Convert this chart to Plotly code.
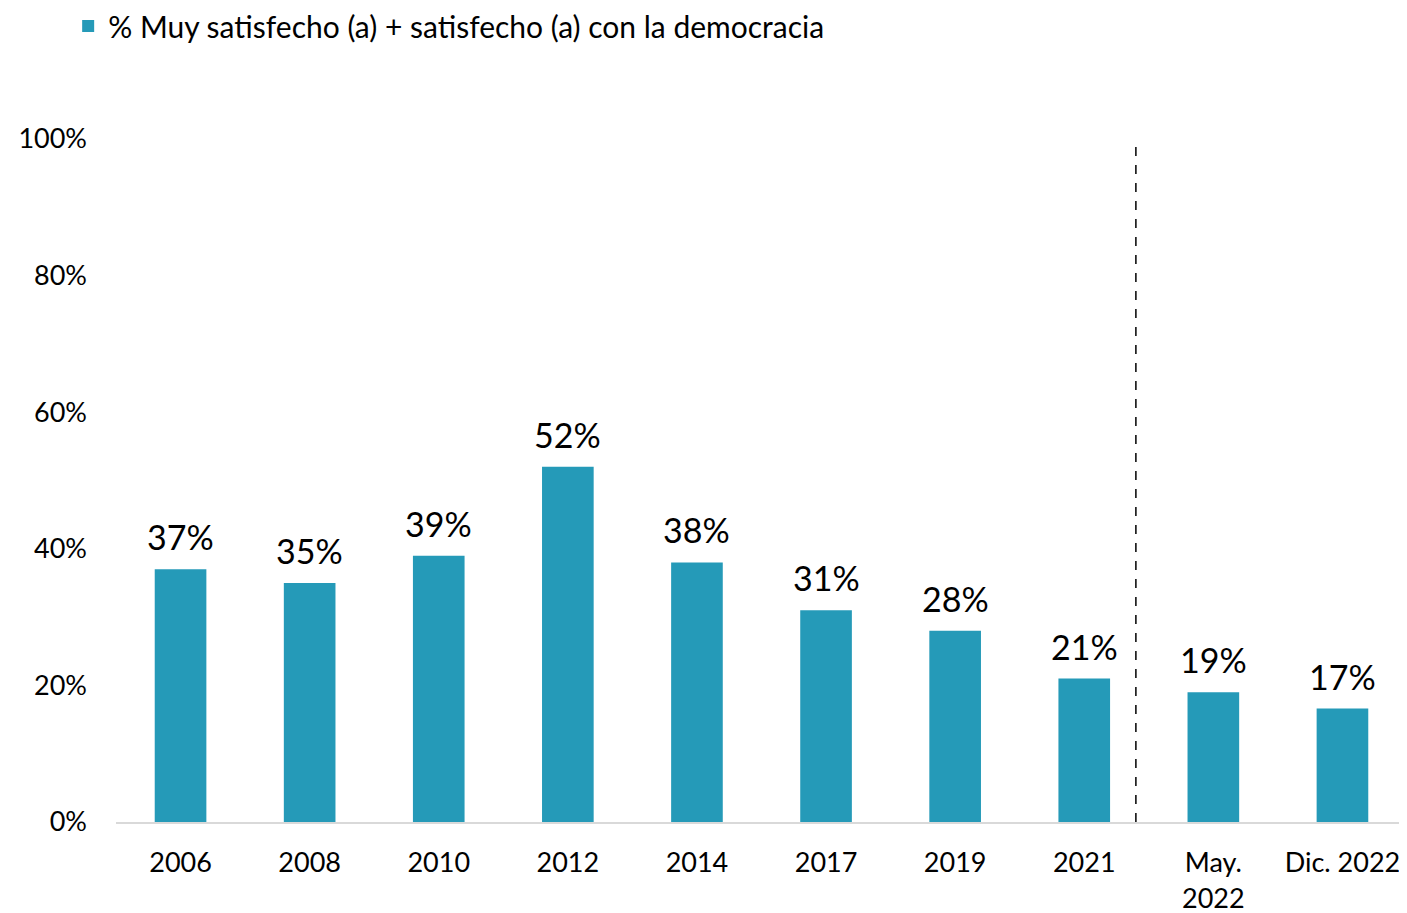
import plotly.graph_objects as go

categories = ["2006", "2008", "2010", "2012", "2014", "2017", "2019", "2021", "May.<br>2022", "Dic. 2022"]
values = [37, 35, 39, 52, 38, 31, 28, 21, 19, 16.6]
series_name = "% Muy satisfecho (a) + satisfecho (a) con la democracia"
y_ticks = [0, 20, 40, 60, 80, 100]
y_tick_labels = ["0%", "20%", "40%", "60%", "80%", "100%"]

FONT = "Lato"
BAR = "#259AB8"

fig = go.Figure()
fig.add_trace(go.Bar(
    x=categories, y=values, name=series_name,
    marker=dict(color=BAR, line=dict(width=0)),
    width=0.4, showlegend=True,
))

for i, v in enumerate(values):
    fig.add_annotation(x=i, y=v, xref="x", yref="y", text=f"{round(v)}%", showarrow=False,
                       yanchor="bottom", yshift=10,
                       font=dict(family=FONT, size=34, color="black"))

fig.add_shape(type="line", xref="x", yref="y", x0=7.4, x1=7.4, y0=0, y1=99,
              line=dict(color="black", width=1.5, dash="dash"))

fig.update_layout(
    width=1399, height=905,
    margin=dict(l=108, r=0, t=131, b=91, autoexpand=False),
    paper_bgcolor="white", plot_bgcolor="white",
    font=dict(family=FONT, color="black"),
    showlegend=True,
    legend=dict(orientation="h", xref="container", yref="container",
                x=0.043, xanchor="left", y=0.98, yanchor="middle",
                font=dict(family=FONT, size=30, color="black"),
                bgcolor="rgba(0,0,0,0)"),
    xaxis=dict(type="category", categoryorder="array", categoryarray=categories,
               range=[-0.5, len(categories) - 0.5],
               showline=True, linecolor="#D9D9D9", linewidth=2,
               ticks="", tickfont=dict(family=FONT, size=27, color="black"),
               ticklabelstandoff=16, showgrid=False, zeroline=False),
    yaxis=dict(range=[0, 100], tickvals=y_ticks, ticktext=y_tick_labels,
               showgrid=False, zeroline=False, showline=False, ticks="",
               tickfont=dict(family=FONT, size=27, color="black"),
               ticklabelstandoff=28),
)

fig.write_html("out.html")
